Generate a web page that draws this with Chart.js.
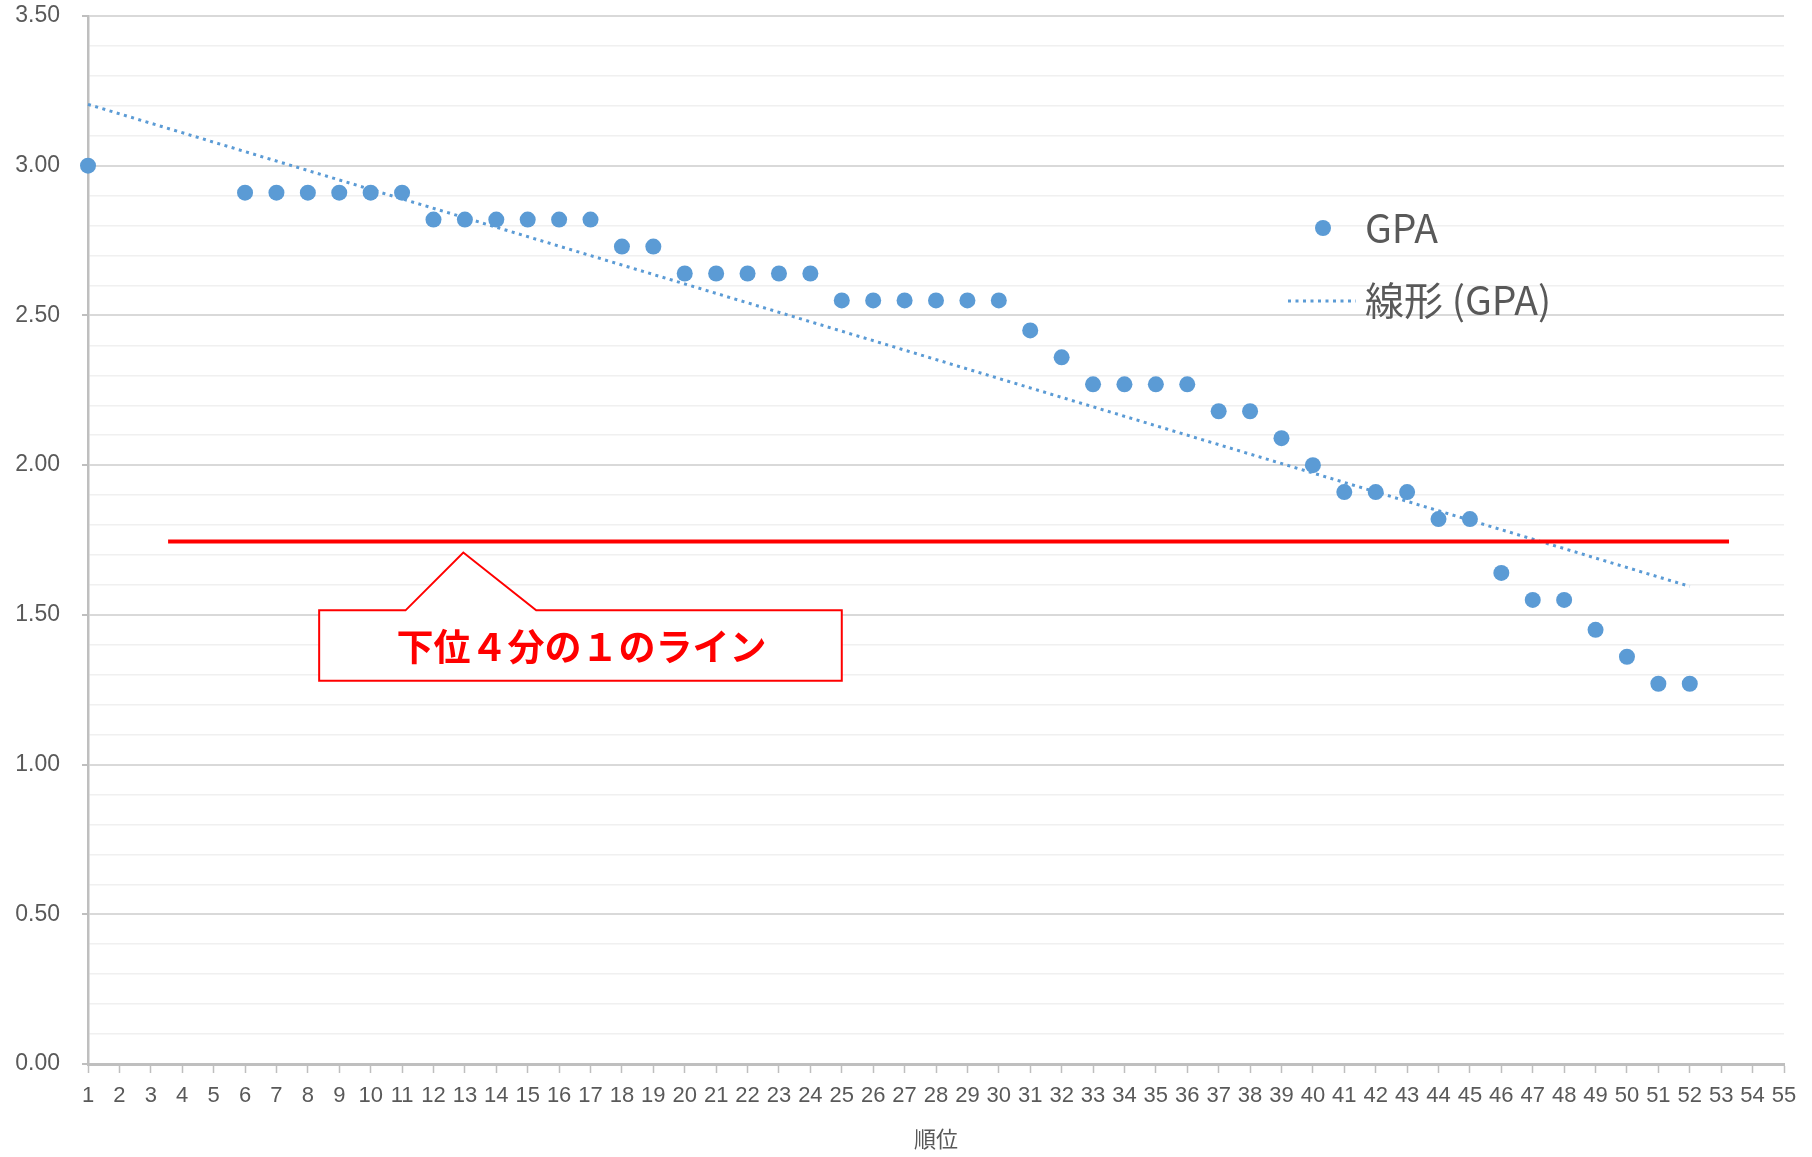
<!DOCTYPE html>
<html>
<head>
<meta charset="utf-8">
<script src="https://cdn.jsdelivr.net/npm/chart.js@4/dist/chart.umd.min.js"></script>
<style>
  html, body { margin: 0; padding: 0; background: #ffffff; }
  #wrap { width: 1812px; height: 1157px; position: relative; }
</style>
</head>
<body>
<div id="wrap"><canvas id="c" width="1812" height="1157"></canvas></div>
<script>
// ---- data ----
const ranks = [1, 6, 7, 8, 9, 10, 11, 12, 13, 14, 15, 16, 17, 18, 19, 20, 21, 22, 23, 24,
  25, 26, 27, 28, 29, 30, 31, 32, 33, 34, 35, 36, 37, 38, 39, 40, 41, 42, 43, 44, 45,
  46, 47, 48, 49, 50, 51, 52];
const gpa = [3.00, 2.91, 2.91, 2.91, 2.91, 2.91, 2.91, 2.82, 2.82, 2.82, 2.82, 2.82, 2.82,
  2.73, 2.73, 2.64, 2.64, 2.64, 2.64, 2.64, 2.55, 2.55, 2.55, 2.55, 2.55, 2.55, 2.45, 2.36,
  2.27, 2.27, 2.27, 2.27, 2.18, 2.18, 2.09, 2.00, 1.91, 1.91, 1.91, 1.82, 1.82,
  1.64, 1.55, 1.55, 1.45, 1.36, 1.27, 1.27];
const trendX = [1, 52];
const trendY = [3.205, 1.595];
const quartileX = [3.55, 53.25];
const quartileY = [1.745, 1.745];
const xTickMin = 1, xTickMax = 55;
const yTickMin = 0, yTickMax = 3.5;
const seriesName = 'GPA';
const trendName = '線形 (GPA)';
const xTitle = '順位';
const calloutText = '下位４分の１のライン';

// ---- styles ----
const BLUE = '#5B9BD5';
const RED = '#FF0000';
const TEXT = '#595959';
const LATIN = "'Liberation Sans Narrow', 'Liberation Sans', sans-serif";
const CJK = "'Noto Sans CJK JP', 'Noto Sans', sans-serif";

function isMajor(v) { return Math.abs(v * 2 - Math.round(v * 2)) < 1e-6; }

const calloutPlugin = {
  id: 'callout',
  afterDatasetsDraw(chart) {
    const { ctx } = chart;
    const xs = chart.scales.x, ys = chart.scales.y;
    const L = xs.getPixelForValue(8.36), R = xs.getPixelForValue(25.0);
    const T = ys.getPixelForValue(1.515), B = ys.getPixelForValue(1.28);
    const b1 = xs.getPixelForValue(11.11), b2 = xs.getPixelForValue(15.27);
    const tx = xs.getPixelForValue(12.95), ty = ys.getPixelForValue(1.708);
    ctx.save();
    ctx.beginPath();
    ctx.moveTo(L, T);
    ctx.lineTo(b1, T);
    ctx.lineTo(tx, ty);
    ctx.lineTo(b2, T);
    ctx.lineTo(R, T);
    ctx.lineTo(R, B);
    ctx.lineTo(L, B);
    ctx.closePath();
    ctx.fillStyle = '#ffffff';
    ctx.fill();
    ctx.lineWidth = 2;
    ctx.strokeStyle = RED;
    ctx.lineJoin = 'miter';
    ctx.stroke();
    ctx.fillStyle = RED;
    ctx.font = "bold 37px " + CJK;
    ctx.textAlign = 'center';
    ctx.textBaseline = 'middle';
    ctx.fillText(calloutText, (L + R) / 2 + 1, (T + B) / 2 + 1);
    ctx.restore();
  }
};

const legendPlugin = {
  id: 'customLegend',
  afterDraw(chart) {
    const { ctx } = chart;
    ctx.save();
    ctx.fillStyle = BLUE;
    ctx.beginPath();
    ctx.arc(1323, 228, 8, 0, Math.PI * 2);
    ctx.fill();
    ctx.strokeStyle = BLUE;
    ctx.lineWidth = 3;
    ctx.setLineDash([3, 4.5]);
    ctx.beginPath();
    ctx.moveTo(1288, 301);
    ctx.lineTo(1356, 301);
    ctx.stroke();
    ctx.setLineDash([]);
    ctx.fillStyle = TEXT;
    ctx.font = "39px " + CJK;
    ctx.textAlign = 'left';
    ctx.textBaseline = 'middle';
    ctx.fillText(seriesName, 1365, 228);
    ctx.fillText(trendName, 1365, 300);
    ctx.restore();
  }
};

const ctx = document.getElementById('c').getContext('2d');
new Chart(ctx, {
  type: 'scatter',
  data: {
    datasets: [
      {
        label: 'quartile',
        type: 'line',
        data: quartileX.map((x, i) => ({ x, y: quartileY[i] })),
        borderColor: RED,
        borderWidth: 4,
        pointRadius: 0,
        fill: false,
        clip: false,
        order: 0
      },
      {
        label: seriesName,
        data: ranks.map((x, i) => ({ x, y: gpa[i] })),
        backgroundColor: BLUE,
        borderColor: BLUE,
        pointRadius: 8,
        pointHoverRadius: 8,
        borderWidth: 0,
        showLine: false,
        clip: false,
        order: 1
      },
      {
        label: trendName,
        type: 'line',
        data: trendX.map((x, i) => ({ x, y: trendY[i] })),
        borderColor: BLUE,
        borderWidth: 3,
        borderDash: [3, 4.5],
        pointRadius: 0,
        fill: false,
        clip: false,
        order: 2
      }
    ]
  },
  options: {
    responsive: false,
    animation: false,
    events: [],
    layout: { padding: { left: 0, right: 28, top: 16, bottom: 0 } },
    plugins: {
      legend: { display: false },
      tooltip: { enabled: false },
      title: { display: false }
    },
    scales: {
      x: {
        type: 'linear',
        min: xTickMin,
        max: xTickMax,
        afterBuildTicks(scale) {
          const t = [];
          for (let v = xTickMin; v <= xTickMax; v++) t.push({ value: v });
          scale.ticks = t;
        },
        afterFit(scale) { scale.height = 93; },
        ticks: {
          autoSkip: false,
          maxRotation: 0,
          minRotation: 0,
          padding: 10,
          color: TEXT,
          font: { family: LATIN, size: 22 },
          callback: (v) => String(v)
        },
        grid: {
          drawOnChartArea: false,
          drawTicks: true,
          tickLength: 9,
          tickColor: '#BFBFBF',
          tickWidth: 1.5
        },
        border: { color: '#BFBFBF', width: 3 },
        title: {
          display: true,
          text: xTitle,
          color: TEXT,
          font: { family: CJK, size: 22 },
          padding: { top: 0, bottom: 5 }
        }
      },
      y: {
        min: yTickMin,
        max: yTickMax,
        afterBuildTicks(scale) {
          const t = [];
          for (let i = 0; i <= 35; i++) t.push({ value: +(yTickMin + i * 0.1).toFixed(1) });
          scale.ticks = t;
        },
        afterFit(scale) { scale.width = 88; scale.paddingTop = 0; scale.paddingBottom = 0; },
        ticks: {
          autoSkip: false,
          padding: 22,
          color: TEXT,
          font: { family: LATIN, size: 23 },
          callback: (v) => isMajor(v) ? v.toFixed(2) : ''
        },
        grid: {
          color: (c) => (c.tick && isMajor(c.tick.value)) ? '#D9D9D9' : '#F0F0F0',
          lineWidth: (c) => (c.tick && isMajor(c.tick.value)) ? 2 : 1.5,
          tickLength: 6,
          tickColor: (c) => (c.tick && isMajor(c.tick.value)) ? '#BFBFBF' : 'rgba(0,0,0,0)'
        },
        border: { color: '#BFBFBF', width: 2.5 }
      }
    }
  },
  plugins: [calloutPlugin, legendPlugin]
});
</script>
</body>
</html>
